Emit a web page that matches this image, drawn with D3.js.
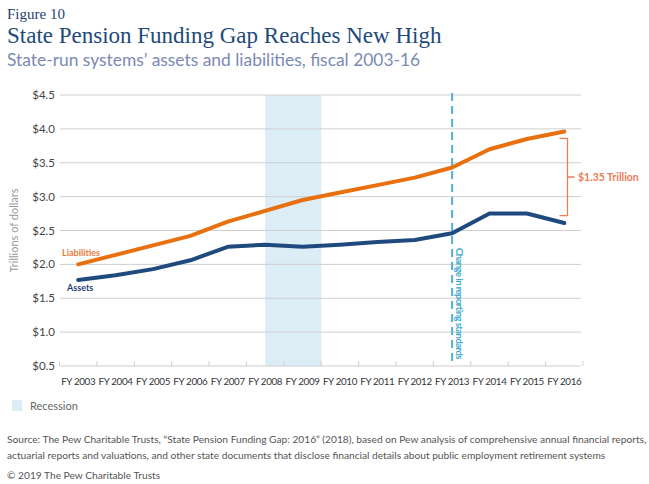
<!DOCTYPE html>
<html><head><meta charset="utf-8">
<script src="https://cdn.jsdelivr.net/npm/d3@7"></script>
<style>
body{margin:0;background:#fff;}
svg{display:block;}
</style></head>
<body>
<svg id="chart" width="649" height="484"></svg>
<script>
const years = ["FY 2003","FY 2004","FY 2005","FY 2006","FY 2007","FY 2008","FY 2009","FY 2010","FY 2011","FY 2012","FY 2013","FY 2014","FY 2015","FY 2016"];
const liabilities = [2.00,2.14,2.28,2.42,2.63,2.79,2.95,3.06,3.17,3.28,3.43,3.70,3.85,3.96];
const assets = [1.77,1.84,1.93,2.06,2.26,2.29,2.26,2.29,2.33,2.36,2.46,2.75,2.75,2.61];
const yTicks = [0.5,1.0,1.5,2.0,2.5,3.0,3.5,4.0,4.5];
const recession = ["FY 2008","FY 2009"];
const reportingChange = "FY 2013";
const gapBracket = [2.72,3.86];
const gapLabel = "$1.35 Trillion";

const svg = d3.select("#chart");
const x0 = 59.5, x1 = 583, yTop = 95, yBot = 366;
const x = d3.scaleBand().domain(years).range([x0, x1]);
const xc = d => x(d) + x.bandwidth()/2;
const y = d3.scaleLinear().domain([0.5,4.5]).range([yBot, yTop]);
const font = "Lato, 'Open Sans', sans-serif";

// Titles
svg.append("text").attr("x",7).attr("y",19).text("Figure 10")
  .attr("font-family","'Liberation Serif', Georgia, serif").attr("font-size",15).attr("fill","#1f3f6e");
svg.append("text").attr("x",7).attr("y",43).text("State Pension Funding Gap Reaches New High")
  .attr("font-family","'Liberation Serif', Georgia, serif").attr("font-size",23).attr("fill","#1d4a7a");
svg.append("text").attr("x",7).attr("y",66).text("State-run systems\u2019 assets and liabilities, fiscal 2003-16")
  .attr("font-family",font).attr("font-size",17.4).attr("fill","#7b8ab3");

// Recession band
svg.append("rect").attr("x", xc(recession[0])).attr("y", yTop)
  .attr("width", x(recession[1]) + x.bandwidth() - xc(recession[0])).attr("height", yBot - yTop)
  .attr("fill","#dcedf5");

// Gridlines
svg.append("g").selectAll("line").data(yTicks).join("line")
  .attr("x1", 60).attr("x2", 581).attr("y1", d=>y(d)).attr("y2", d=>y(d))
  .attr("stroke","#cfcfcf").attr("stroke-width",1);

// y labels
svg.append("g").selectAll("text").data(yTicks).join("text")
  .attr("x", 55).attr("y", d=>y(d)+4).attr("text-anchor","end")
  .text(d=>"$"+d.toFixed(1)).attr("font-family",font).attr("font-size",11.5).attr("fill","#444");

svg.append("text").attr("transform",`translate(18,${(yTop+yBot)/2}) rotate(-90)`)
  .attr("text-anchor","middle").text("Trillions of dollars")
  .attr("font-family",font).attr("font-size",11).attr("fill","#999");

// x ticks (pointing up)
const tickXs = years.map(d=>x(d)).concat([x1]);
svg.append("g").selectAll("line").data(tickXs).join("line")
  .attr("x1", d=>d).attr("x2", d=>d).attr("y1", yBot-5).attr("y2", yBot)
  .attr("stroke","#cfcfcf");
svg.append("g").selectAll("text").data(years).join("text")
  .attr("x", d=>xc(d)).attr("y", 385).attr("text-anchor","middle").text(d=>d)
  .attr("font-family",font).attr("font-size",9.8).attr("letter-spacing",-0.35).attr("fill","#333");

// dashed line
svg.append("line").attr("x1", xc(reportingChange)).attr("x2", xc(reportingChange))
  .attr("y1", yTop-2).attr("y2", yBot).attr("stroke","#4db3d6").attr("stroke-width",2)
  .attr("stroke-dasharray","8,5");
svg.append("text").attr("transform",`translate(${xc(reportingChange)+4},248) rotate(90)`)
  .text("Change in reporting standards").attr("font-family",font).attr("font-weight","bold")
  .attr("font-size",9.5).attr("letter-spacing",-0.55).attr("fill","#3ea8cf");

// lines
const line = d3.line().x((d,i)=>xc(years[i])).y(d=>y(d));
svg.append("path").datum(liabilities).attr("d", line).attr("fill","none")
  .attr("stroke","#e8700f").attr("stroke-width",4).attr("stroke-linecap","round").attr("stroke-linejoin","round");
svg.append("path").datum(assets).attr("d", line).attr("fill","none")
  .attr("stroke","#1f4a7e").attr("stroke-width",4).attr("stroke-linecap","round").attr("stroke-linejoin","round");

svg.append("text").attr("x",62).attr("y",256).text("Liabilities")
  .attr("font-family",font).attr("font-weight","bold").attr("font-size",9).attr("fill","#ea7a3d");
svg.append("text").attr("x",67).attr("y",291).text("Assets")
  .attr("font-family",font).attr("font-weight","bold").attr("font-size",9).attr("fill","#1f3f73");

// bracket
const bx = 567.5, bTop = y(gapBracket[1]), bBot = y(gapBracket[0]), bMid = (bTop+bBot)/2;
svg.append("path").attr("d",`M${bx-8},${bTop}H${bx}V${bBot}H${bx-8}M${bx},${bMid}H${bx+7}`)
  .attr("fill","none").attr("stroke","#ec7d55").attr("stroke-width",1.3);
svg.append("text").attr("x",578).attr("y",bMid+4).text(gapLabel)
  .attr("font-family",font).attr("font-weight","bold").attr("font-size",10.5).attr("fill","#ec7d55");

// legend
svg.append("rect").attr("x",12).attr("y",400).attr("width",10).attr("height",11).attr("fill","#dcedf5");
svg.append("text").attr("x",30).attr("y",410).text("Recession")
  .attr("font-family",font).attr("font-size",11).attr("fill","#666");

// source
const src = ["Source: The Pew Charitable Trusts, \u201cState Pension Funding Gap: 2016\u201d (2018), based on Pew analysis of comprehensive annual financial reports,",
 "actuarial reports and valuations, and other state documents that disclose financial details about public employment retirement systems"];
svg.append("g").selectAll("text").data(src).join("text")
  .attr("x",7).attr("y",(d,i)=>443+i*16).text(d=>d)
  .attr("font-family",font).attr("font-size",10.2).attr("fill","#555");
svg.append("text").attr("x",7).attr("y",479).text("\u00a9 2019 The Pew Charitable Trusts")
  .attr("font-family",font).attr("font-size",10.2).attr("fill","#555");
</script>
</body></html>
